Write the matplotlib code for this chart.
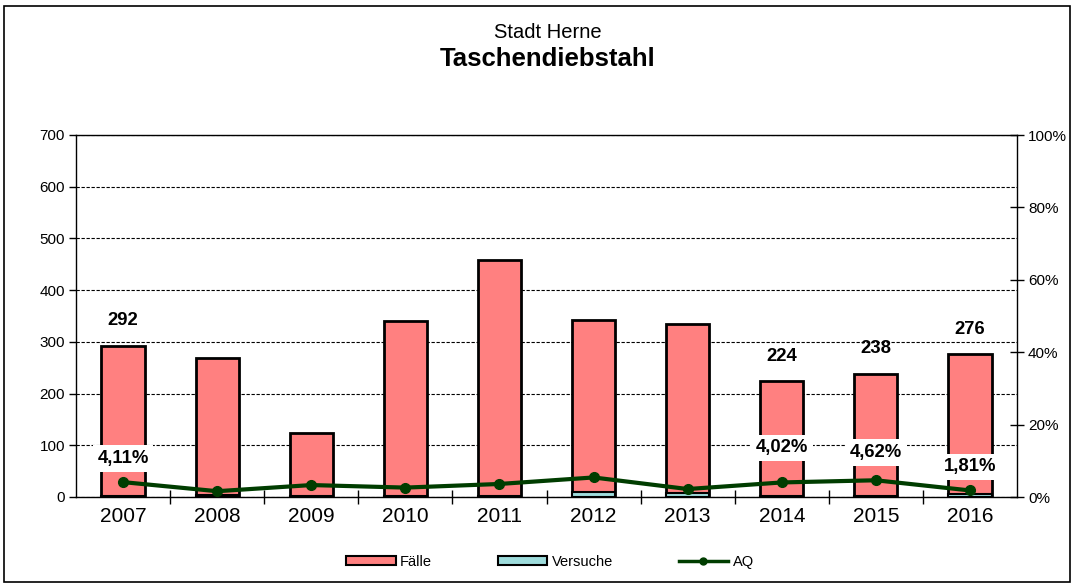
import matplotlib.pyplot as plt
from matplotlib.lines import Line2D
from matplotlib.patches import Patch, Rectangle

plt.rcParams["font.family"] = ["Liberation Sans", "DejaVu Sans"]

years = ["2007", "2008", "2009", "2010", "2011", "2012", "2013", "2014", "2015", "2016"]
faelle = [292, 269, 124, 340, 458, 342, 335, 224, 238, 276]
versuche = [2, 4, 2, 2, 2, 10, 7, 2, 2, 5]
aq = [4.11, 1.6, 3.3, 2.6, 3.6, 5.4, 2.2, 4.02, 4.62, 1.81]

# which years get labels
count_labels = ["2007", "2014", "2015", "2016"]
aq_labels = ["2007", "2014", "2015", "2016"]
aq_offsets = [17, 25, 20, 17]

FAELLE_COLOR = "#FF8080"
VERSUCHE_COLOR = "#9EDCDC"
AQ_COLOR = "#003D00"


def main() -> None:
    fig = plt.figure(figsize=(10.72, 5.84), dpi=100)
    ax = fig.add_axes([76 / 1072, 1 - 497 / 584, 941 / 1072, 362 / 584])
    ax2 = ax.twinx()

    x = list(range(len(years)))
    ax.bar(x, faelle, width=0.46, color=FAELLE_COLOR, edgecolor="black", linewidth=2, zorder=2)
    ax.bar(x, versuche, width=0.46, color=VERSUCHE_COLOR, edgecolor="black", linewidth=1.5, zorder=3)

    ax.set_xlim(-0.5, len(years) - 0.5)
    ax.set_ylim(0, 700)
    ax.set_yticks(range(0, 701, 100))
    ax.yaxis.grid(True, linestyle=(0, (3, 1.5)), color="black", linewidth=0.8)
    ax.set_axisbelow(True)
    ax.set_xticks(x)
    ax.set_xticklabels(years, fontsize=15)
    ax.set_xticks([i + 0.5 for i in x[:-1]], minor=True)
    ax.tick_params(axis="x", which="major", length=0, pad=7)
    ax.tick_params(axis="x", which="minor", direction="inout", length=10, width=1)
    ax.tick_params(axis="y", direction="out", length=5, width=1, labelsize=11, pad=3)
    for spine in ax.spines.values():
        spine.set_linewidth(1)

    for i, y in enumerate(years):
        if y in count_labels:
            ax.annotate(str(faelle[i]), (i, faelle[i]), xytext=(0, 18), textcoords="offset points",
                        ha="center", va="center", fontsize=13.3, fontweight="bold", zorder=5)

    ax2.plot(x, aq, color=AQ_COLOR, linewidth=3, marker="o", markersize=7, zorder=4)
    ax2.set_ylim(0, 100)
    ax2.set_yticks(range(0, 101, 20))
    ax2.set_yticklabels([f"{v}%" for v in range(0, 101, 20)])
    ax2.tick_params(axis="y", direction="inout", length=10, width=1, labelsize=11, pad=3)
    for spine in ax2.spines.values():
        spine.set_visible(False)

    k = 0
    for i, y in enumerate(years):
        if y in aq_labels:
            txt = f"{aq[i]:.2f}%".replace(".", ",")
            ax2.annotate(txt, (i, aq[i]), xytext=(0, aq_offsets[k]), textcoords="offset points",
                         ha="center", va="center", fontsize=13.3, fontweight="bold", zorder=6,
                         bbox=dict(boxstyle="square,pad=0.25", facecolor="white", edgecolor="none"))
            k += 1

    fig.text(548 / 1072, 1 - 33 / 584, "Stadt Herne", ha="center", va="center", fontsize=14.5)
    fig.text(548 / 1072, 1 - 59 / 584, "Taschendiebstahl", ha="center", va="center",
             fontsize=18.5, fontweight="bold")

    handles = [
        Patch(facecolor=FAELLE_COLOR, edgecolor="black", linewidth=1.5),
        Patch(facecolor=VERSUCHE_COLOR, edgecolor="black", linewidth=1.5),
        Line2D([0], [0], color=AQ_COLOR, linewidth=2.5, marker="o", markersize=5),
    ]
    fig.legend(handles, ["Fälle", "Versuche", "AQ"], loc="center", bbox_to_anchor=(550 / 1072, 1 - 562 / 584),
               ncol=3, frameon=False, fontsize=10.5, handlelength=3.4, handleheight=0.55,
               handletextpad=0.3, columnspacing=4.5)

    fig.patches.append(Rectangle((4 / 1072, 2 / 584), 1 - 6 / 1072, 1 - 8 / 584,
                                 transform=fig.transFigure, fill=False, edgecolor="black", linewidth=1.2))

    fig.savefig("out.png", dpi=100)
    plt.close(fig)


if __name__ == "__main__":
    main()
